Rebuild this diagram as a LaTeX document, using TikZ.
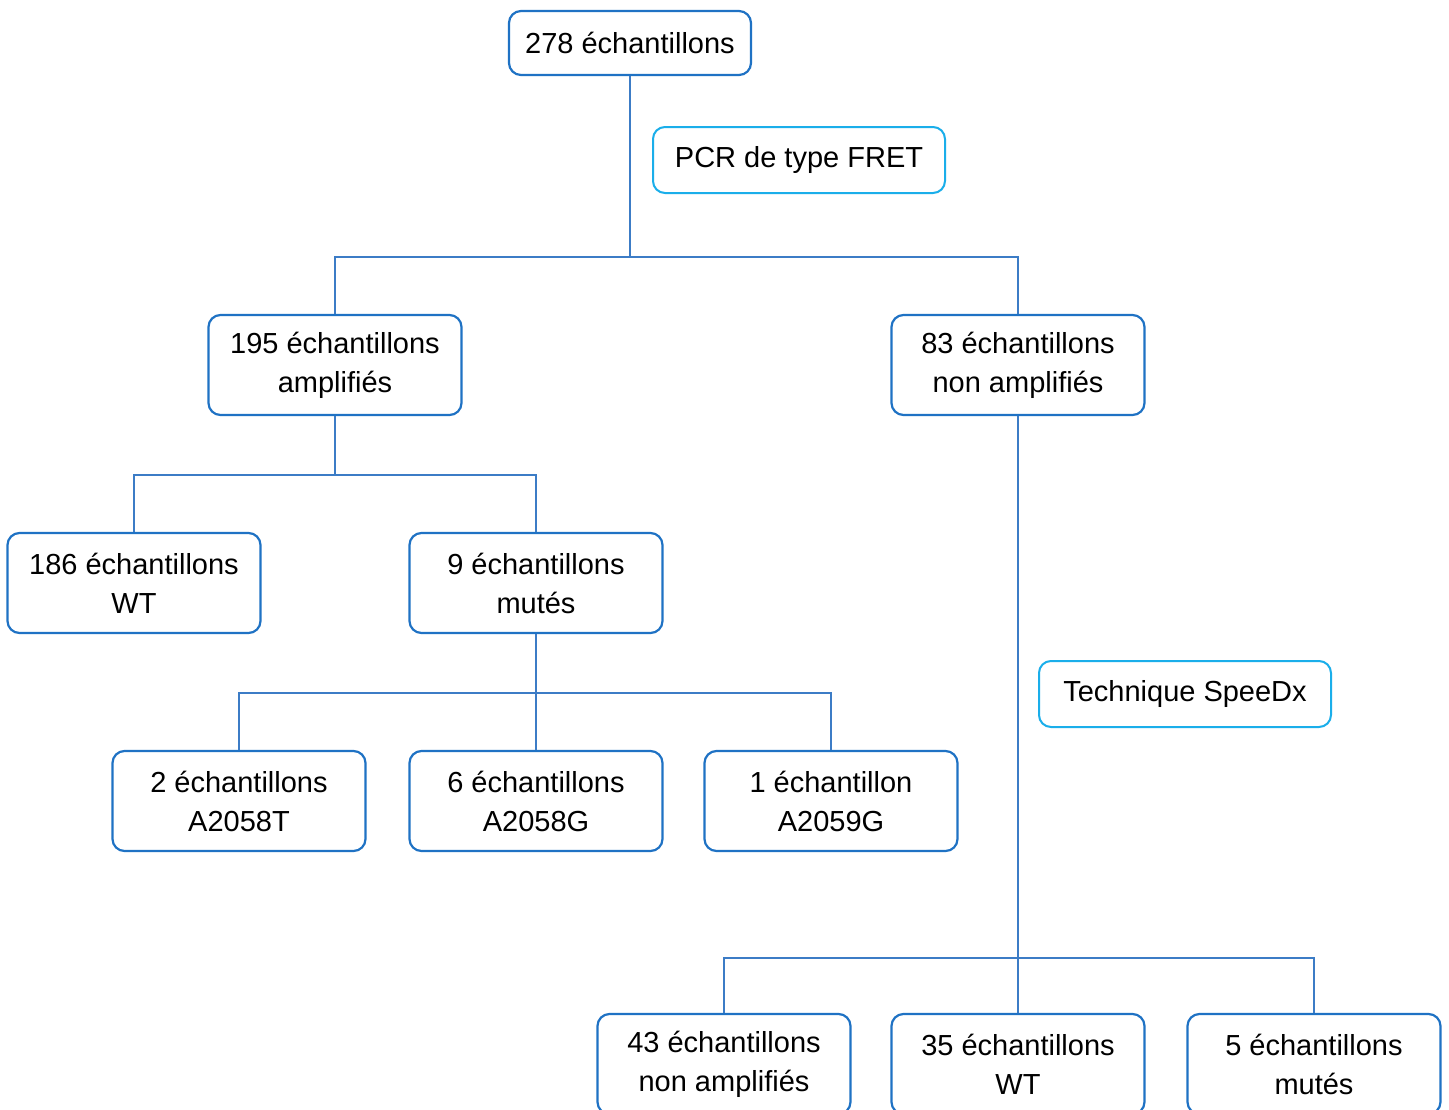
\documentclass[tikz,border=0pt]{standalone}
\usepackage{fontspec}
\setmainfont{Liberation Sans}
\usetikzlibrary{calc}
\definecolor{boxblue}{HTML}{1F72C4}
\definecolor{lineblue}{HTML}{3C7CC6}
\definecolor{cyanbox}{HTML}{1AAEEA}
\begin{document}
\begin{tikzpicture}[x=1pt,y=-1pt,
  every node/.style={font=\fontsize{29}{39}\selectfont, align=center, inner sep=0pt},
  sbox/.style={draw=boxblue, line width=2.2pt, rounded corners=12pt, minimum width=253pt, minimum height=100pt},
  tbox/.style={draw=boxblue, line width=2.2pt, rounded corners=12pt, minimum width=242pt, minimum height=64pt},
  cbox/.style={draw=cyanbox, line width=2pt, rounded corners=12pt, minimum width=292pt, minimum height=66pt},
  conn/.style={draw=lineblue, line width=2pt}]
\useasboundingbox (0,0) rectangle (1449,1109);
\clip (0,0) rectangle (1449,1109);
\fill[white] (0,0) rectangle (1449,1109);

\node[tbox] (top) at (630,43) {278 échantillons};
\node[cbox] (pcr) at (799,160) {PCR de type FRET};
\node[sbox] (a195) at (335,365) {195 échantillons\\amplifiés};
\node[sbox] (n83) at (1018,365) {83 échantillons\\non amplifiés};
\node[sbox] (wt186) at (134,583) {186 échantillons\\WT};
\node[sbox] (m9) at (536,583) {9 échantillons\\mutés};
\node[sbox] (a2) at (239,801) {2 échantillons\\A2058T};
\node[sbox] (a6) at (536,801) {6 échantillons\\A2058G};
\node[sbox] (a1) at (831,801) {1 échantillon\\A2059G};
\node[cbox] (speedx) at (1185,694) {Technique SpeeDx};
\node[sbox] (b43) at (724,1064) {43 échantillons\\non amplifiés};
\node[sbox] (b35) at (1018,1064) {35 échantillons\\WT};
\node[sbox] (b5) at (1314,1064) {5 échantillons\\mutés};

% level 1
\path (top.south) ++(0,181) coordinate (j1);
\draw[conn] (top.south) -- (j1);
\draw[conn] (a195.north) |- (j1) -| (n83.north);
% level 2 left
\path (a195.south) ++(0,59) coordinate (j2);
\draw[conn] (a195.south) -- (j2);
\draw[conn] (wt186.north) |- (j2) -| (m9.north);
% level 3 left
\path (m9.south) ++(0,59) coordinate (j3);
\draw[conn] (m9.south) -- (m9.south |- a6.north);
\draw[conn] (a2.north) |- (j3) -| (a1.north);
% right branch
\path (n83.south) ++(0,542) coordinate (j4);
\draw[conn] (n83.south) -- (n83.south |- b35.north);
\draw[conn] (b43.north) |- (j4) -| (b5.north);
\end{tikzpicture}
\end{document}
